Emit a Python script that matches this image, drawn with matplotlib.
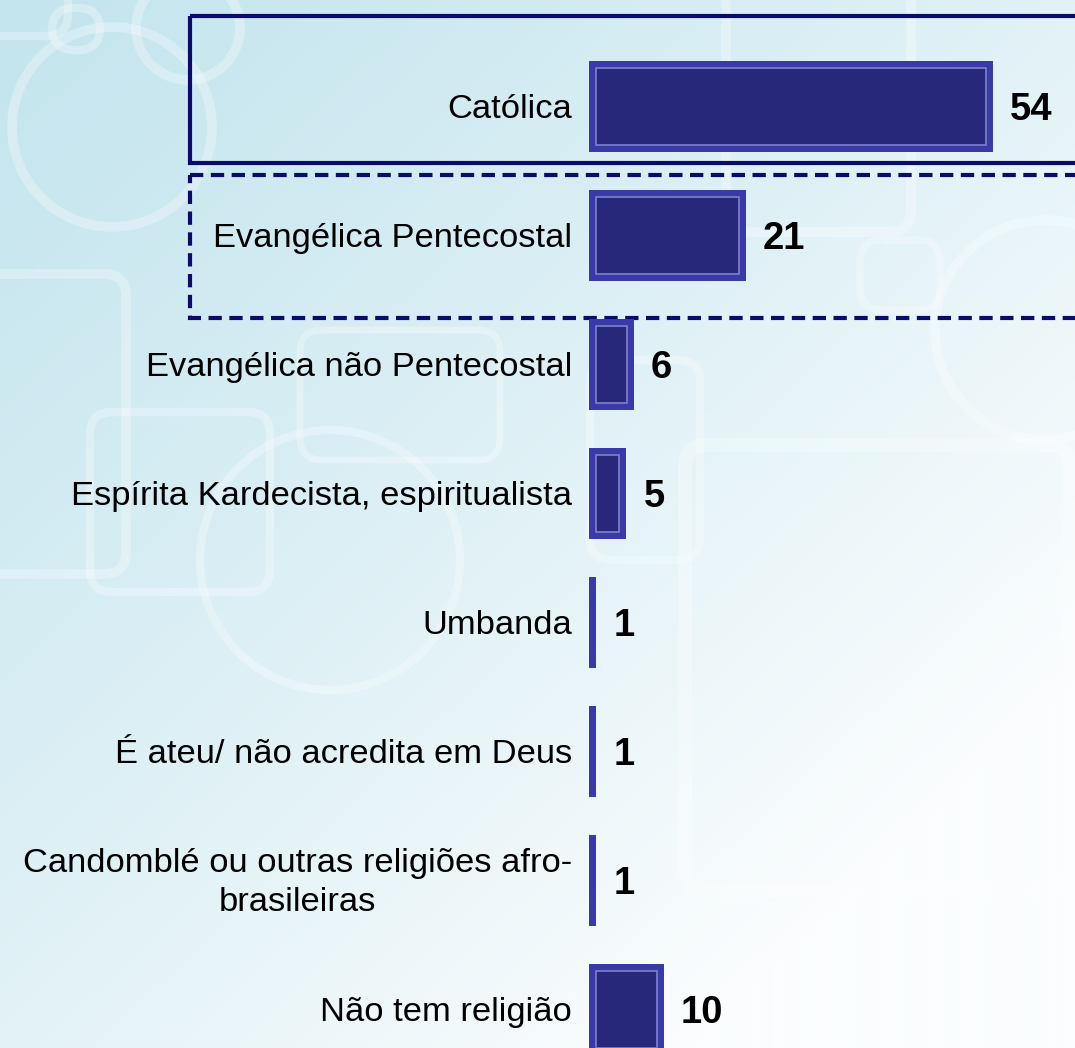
import numpy as np
import matplotlib
matplotlib.use('Agg')
import matplotlib.pyplot as plt
from matplotlib.patches import Rectangle, FancyBboxPatch, Circle

categories = ["Católica", "Evangélica Pentecostal", "Evangélica não Pentecostal",
              "Espírita Kardecista, espiritualista", "Umbanda",
              "É ateu/ não acredita em Deus",
              "Candomblé ou outras religiões afro-\nbrasileiras", "Não tem religião"]
values = [54, 21, 6, 5, 1, 1, 1, 10]
value_labels = ["54", "21", "6", "5", "1", "1", "1", "10"]

FONT = "Liberation Sans"
W, H = 1075, 1048
fig = plt.figure(figsize=(W / 100, H / 100), dpi=100)

# ---------- background ----------
bg = fig.add_axes([0, 0, 1, 1])
bg.set_xlim(0, W)
bg.set_ylim(H, 0)
bg.axis('off')
yy, xx = np.mgrid[0:H:2, 0:W:2]
t = np.clip(0.6 * xx / W + 0.62 * yy / H, 0, 1) ** 1.2
c0 = np.array([196, 229, 238]) / 255
c1 = np.array([251, 253, 254]) / 255
img = c0 + (c1 - c0) * t[..., None]
bg.imshow(img, extent=[0, W, H, 0], aspect='auto', zorder=0, interpolation='bilinear')

deco = dict(fill=False, ec='white', alpha=0.3, zorder=1)
bg.add_patch(Circle((112, 127), 100, lw=7, **deco))
bg.add_patch(Circle((188, 28), 52, lw=7, **deco))
bg.add_patch(Circle((1045, 330), 110, lw=7, **deco))
bg.add_patch(Circle((330, 560), 130, lw=6, **deco))
for (x, y, w, h, lw) in [(-20, -20, 88, 56, 6), (52, 8, 48, 42, 6), (-30, 274, 156, 300, 7),
                         (90, 412, 180, 180, 6), (726, -20, 185, 252, 7),
                         (685, 445, 385, 445, 10), (300, 330, 200, 130, 5),
                         (860, 240, 80, 70, 5), (590, 360, 110, 200, 6)]:
    bg.add_patch(FancyBboxPatch((x, y), w, h, boxstyle="round,pad=0,rounding_size=22",
                                lw=lw, **deco))

# highlight boxes
navy = '#0b0b6c'
bg.add_patch(Rectangle((190, 16), 1000, 147, fill=False, ec=navy, lw=3, zorder=3,
                       joinstyle='miter'))
bg.add_patch(Rectangle((190, 175), 1000, 143, fill=False, ec=navy, lw=3, zorder=3,
                       linestyle=(0, (3.2, 1.8))))

# ---------- data axes ----------
S = 7.48          # pixels per unit
ROW = 129.0       # pixels per category
X0 = 589.0        # pixel of value 0
Y0 = 106.5        # pixel of first category centre
ax = fig.add_axes([0, 0, 1, 1])
ax.patch.set_alpha(0)
ax.set_xlim(-X0 / S, (W - X0) / S)
ax.set_ylim((H - Y0) / ROW, -Y0 / ROW)
ax.axis('off')

pos = np.arange(len(categories))
bh = 0.71
ax.barh(pos, values, height=bh, color='#3939a8', edgecolor='none', zorder=2)
ix, iy = 7 / S, 7 / ROW
for i, v in zip(pos, values):
    if v > 3 * ix:
        ax.barh(i, v - 2 * ix, left=ix, height=bh - 2 * iy, color='#28287a',
                edgecolor='#7a7ac6', linewidth=1.3, zorder=3)

for i, (c, v, lab) in zip(pos, zip(categories, values, value_labels)):
    ax.text(-17 / S, i + 0.02, c, ha='right', va='center', fontsize=24.8, family=FONT,
            multialignment='center', color='black', linespacing=1.35, zorder=4)
    ax.text(v + 17 / S, i + 0.03, lab, ha='left', va='center', fontsize=27.5,
            family=FONT, fontweight='bold', color='black', zorder=4)

fig.savefig('out.png', dpi=100)
